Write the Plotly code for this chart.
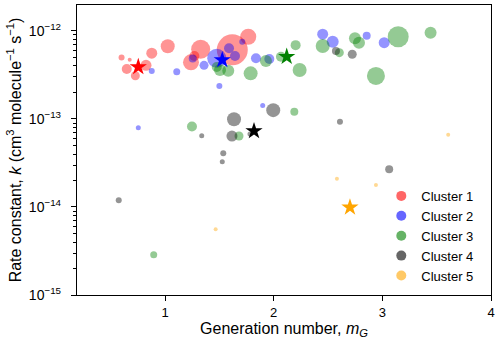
import plotly.graph_objects as go

# Cluster 1
c1_x = [0.60, 0.675, 0.648, 0.727, 0.825, 0.878, 1.025, 1.239, 1.27, 1.328, 1.619, 1.766]
c1_k = [5.0e-13, 4.7e-13, 3.7e-13, 3.1e-13, 4.07e-13, 5.6e-13, 6.7e-13, 4.4e-13, 5.2e-13, 6.2e-13, 6.1e-13, 8.6e-13]
c1_s = [6, 4, 10, 9, 11, 11, 14, 16, 10, 19, 31, 16]

# Cluster 2
c2_x = [0.878, 1.108, 1.255, 1.359, 1.50, 1.476, 1.589, 1.644, 1.711, 1.837, 1.96, 1.899, 2.451, 2.543, 2.856, 3.017, 0.754]
c2_k = [3.5e-13, 3.45e-13, 4.85e-13, 4.07e-13, 2.37e-13, 4.9e-13, 6.36e-13, 5.2e-13, 7.55e-13, 4.9e-13, 4.8e-13,
        1.42e-13, 9.2e-13, 7.55e-13, 8.8e-13, 7.36e-13, 7.96e-14]
c2_s = [6, 7, 8, 9, 6, 19, 10, 10, 6, 10, 10, 5, 11, 12, 8, 11, 5]

# Cluster 3
c3_x = [1.476, 1.506, 1.582, 1.788, 1.929, 2.067, 2.202, 2.239, 2.451, 2.604, 2.748, 2.785, 2.941, 3.146, 3.444,
        2.19, 1.248, 1.681, 0.896]
c3_k = [3.9e-13, 3.6e-13, 3.54e-13, 3.3e-13, 4.56e-13, 5.1e-13, 6.9e-13, 3.6e-13, 6.76e-13, 5.67e-13, 8.26e-13,
        7.36e-13, 3.08e-13, 8.6e-13, 9.57e-13, 1.21e-13, 8.2e-14, 6.4e-14, 2.87e-15]
c3_s = [10, 12, 12, 14, 12, 10, 10, 14, 14, 9, 12, 12, 18, 21, 12, 8, 10, 9, 7]

# Cluster 4
c4_x = [2.573, 2.723, 1.996, 1.635, 2.61, 1.338, 1.616, 1.782, 1.536, 1.527, 0.574, 3.063]
c4_k = [5.93e-13, 5.43e-13, 1.26e-13, 9.93e-14, 9.3e-14, 6.45e-14, 6.4e-14, 6.76e-14, 4.07e-14, 3.27e-14,
        1.19e-14, 2.68e-14]
c4_s = [8, 9, 14, 14, 6, 5, 11, 5, 6, 5, 6, 8]

# Cluster 5
c5_x = [1.466, 3.606, 2.582, 2.941]
c5_k = [5.6e-15, 6.6e-14, 2.09e-14, 1.78e-14]
c5_s = [4, 4, 4, 4]

# cluster centroids (stars)
star_x = [0.754, 1.527, 2.12, 1.819, 2.702]
star_k = [3.9e-13, 4.68e-13, 5.1e-13, 7.3e-14, 9.9e-15]

names = ["Cluster 1", "Cluster 2", "Cluster 3", "Cluster 4", "Cluster 5"]
fills = ["rgba(255,0,0,0.6)", "rgba(0,0,255,0.6)", "rgba(0,128,0,0.6)",
         "rgba(0,0,0,0.6)", "rgba(255,165,0,0.6)"]
solid = ["red", "blue", "green", "black", "orange"]

clusters = [(c1_x, c1_k, c1_s), (c2_x, c2_k, c2_s), (c3_x, c3_k, c3_s),
            (c4_x, c4_k, c4_s), (c5_x, c5_k, c5_s)]

fig = go.Figure()

for (xs, ks, ss), col in zip(clusters, fills):
    fig.add_scatter(x=xs, y=ks, mode="markers", showlegend=False,
                    marker=dict(size=ss, color=col, line=dict(width=0)))

for i in range(5):
    fig.add_scatter(x=[star_x[i]], y=[star_k[i]], mode="markers", showlegend=False,
                    marker=dict(symbol="star", size=13, color=solid[i], line=dict(width=0)))

# legend entries only
for name, col in zip(names, fills):
    fig.add_scatter(x=[None], y=[None], mode="markers", name=name,
                    marker=dict(size=10, color=col))

# minor ticks 2..9 in each decade
minor_vals = [m * 10.0 ** e for e in range(-15, -11) for m in range(2, 10)]

axis_style = dict(showline=True, linecolor="black", linewidth=1.3, mirror=True,
                  ticks="outside", ticklen=5, tickwidth=1.3, tickcolor="black",
                  showgrid=False, zeroline=False, automargin=False)

fig.update_layout(
    width=500, height=346,
    margin=dict(l=77, r=9, t=5, b=51),
    plot_bgcolor="white", paper_bgcolor="white",
    font=dict(family="Liberation Sans, Arial", size=13, color="black"),
    xaxis=dict(range=[0.19, 4.0], tickvals=[1, 2, 3, 4], ticklabeloverflow="allow",
               title=dict(text="Generation number, <i>m<sub>G</sub></i>", standoff=3),
               **axis_style),
    yaxis=dict(type="log", range=[-15, -11.705],
               tickvals=[1e-15, 1e-14, 1e-13, 1e-12],
               ticktext=["10<sup>−15</sup>", "10<sup>−14</sup>", "10<sup>−13</sup>", "10<sup>−12</sup>"],
               tickfont=dict(size=14), ticklabelstandoff=7,
               minor=dict(tickmode="array", tickvals=minor_vals, ticks="outside",
                          ticklen=3, tickwidth=1, tickcolor="black", showgrid=False),
               title=dict(text="Rate constant, <i>k</i> (cm<sup>3</sup> molecule<sup>−1</sup> s<sup>−1</sup>)",
                          standoff=3),
               **axis_style),
    legend=dict(x=0.735, y=0.014, xanchor="left", yanchor="bottom",
                bgcolor="rgba(0,0,0,0)", font=dict(size=13)),
)

# the page's default body margin would push the figure 8px right and down
fig.write_html("out.html", config={"displayModeBar": False},
               post_script="document.body.style.margin='0';")
